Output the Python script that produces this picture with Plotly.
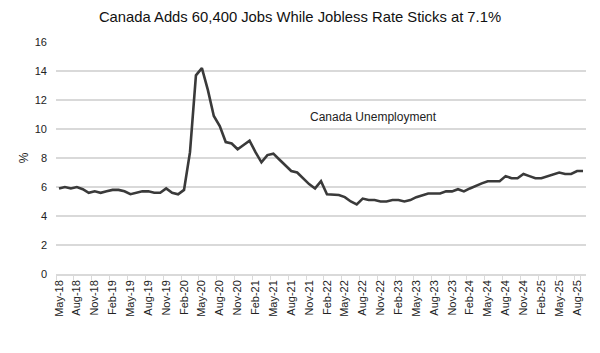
import plotly.graph_objects as go

months = []
mnames = ["Jan", "Feb", "Mar", "Apr", "May", "Jun", "Jul", "Aug", "Sep", "Oct", "Nov", "Dec"]
for y in range(18, 26):
    for m in range(12):
        if (y == 18 and m < 4) or (y == 25 and m > 8):
            continue
        months.append(f"{mnames[m]}-{y}")

rate = [
    5.9, 6.0, 5.9, 6.0, 5.85, 5.6, 5.7, 5.6,                      # May-18..Dec-18
    5.7, 5.8, 5.8, 5.7, 5.5, 5.6, 5.7, 5.7, 5.6, 5.6, 5.9, 5.6,   # 2019
    5.5, 5.8, 8.4, 13.7, 14.2, 12.7, 10.9, 10.2, 9.1, 9.0, 8.6, 8.9,  # 2020
    9.2, 8.4, 7.7, 8.2, 8.3, 7.9, 7.5, 7.1, 7.0, 6.6, 6.2, 5.9,   # 2021
    6.4, 5.5, 5.45, 5.45, 5.3, 5.0, 4.8, 5.2, 5.1, 5.1, 5.0, 5.0, # 2022
    5.1, 5.1, 5.0, 5.1, 5.3, 5.45, 5.55, 5.55, 5.55, 5.7, 5.7, 5.85,  # 2023
    5.7, 5.9, 6.1, 6.25, 6.4, 6.4, 6.4, 6.75, 6.6, 6.6, 6.9, 6.75,    # 2024
    6.6, 6.6, 6.75, 6.9, 7.0, 6.9, 6.9, 7.1, 7.1,                 # 2025
]

tick_labels = months[::3]
y_ticks = list(range(0, 17, 2))

fig = go.Figure()
fig.add_trace(go.Scatter(
    x=months, y=rate, mode="lines",
    line=dict(color="#3a3a3a", width=2.6),
    showlegend=False,
))

fig.add_annotation(
    x=41.9, y=10.8, xref="x", yref="y",
    text="Canada Unemployment", showarrow=False,
    xanchor="left", yanchor="middle",
    font=dict(family="Liberation Sans, Arial", size=12, color="#222222"),
)

fig.update_layout(
    width=600, height=353,
    margin=dict(l=56, r=14, t=42, b=79),
    paper_bgcolor="white", plot_bgcolor="white",
    title=dict(
        text="Canada Adds 60,400 Jobs While Jobless Rate Sticks at 7.1%",
        xref="container", x=0.5, xanchor="center",
        yref="container", y=1 - 17 / 353, yanchor="middle",
        font=dict(family="Liberation Sans, Arial", size=14.8, color="#111111"),
    ),
    font=dict(family="Liberation Sans, Arial", size=11, color="#222222"),
)

fig.update_xaxes(
    type="category", categoryorder="array", categoryarray=months,
    range=[-0.5, len(months) - 0.5],
    tickmode="array", tickvals=tick_labels, ticktext=tick_labels,
    tickangle=-90, tickson="boundaries",
    ticks="outside", ticklen=4, tickcolor="#d9d9d9",
    showgrid=False, showline=True, linecolor="#d9d9d9", linewidth=1.5,
    zeroline=False, tickfont=dict(size=11, color="#222222"),
)

fig.update_yaxes(
    range=[0, 16], tickmode="array", tickvals=y_ticks,
    showgrid=True, gridcolor="#d9d9d9", gridwidth=1.5,
    zeroline=False, showline=False, ticks="",
    ticklabelstandoff=8,
    title=dict(text="%", standoff=3, font=dict(size=12, color="#222222")),
    tickfont=dict(size=11, color="#222222"),
)

fig.write_html("out.html")
